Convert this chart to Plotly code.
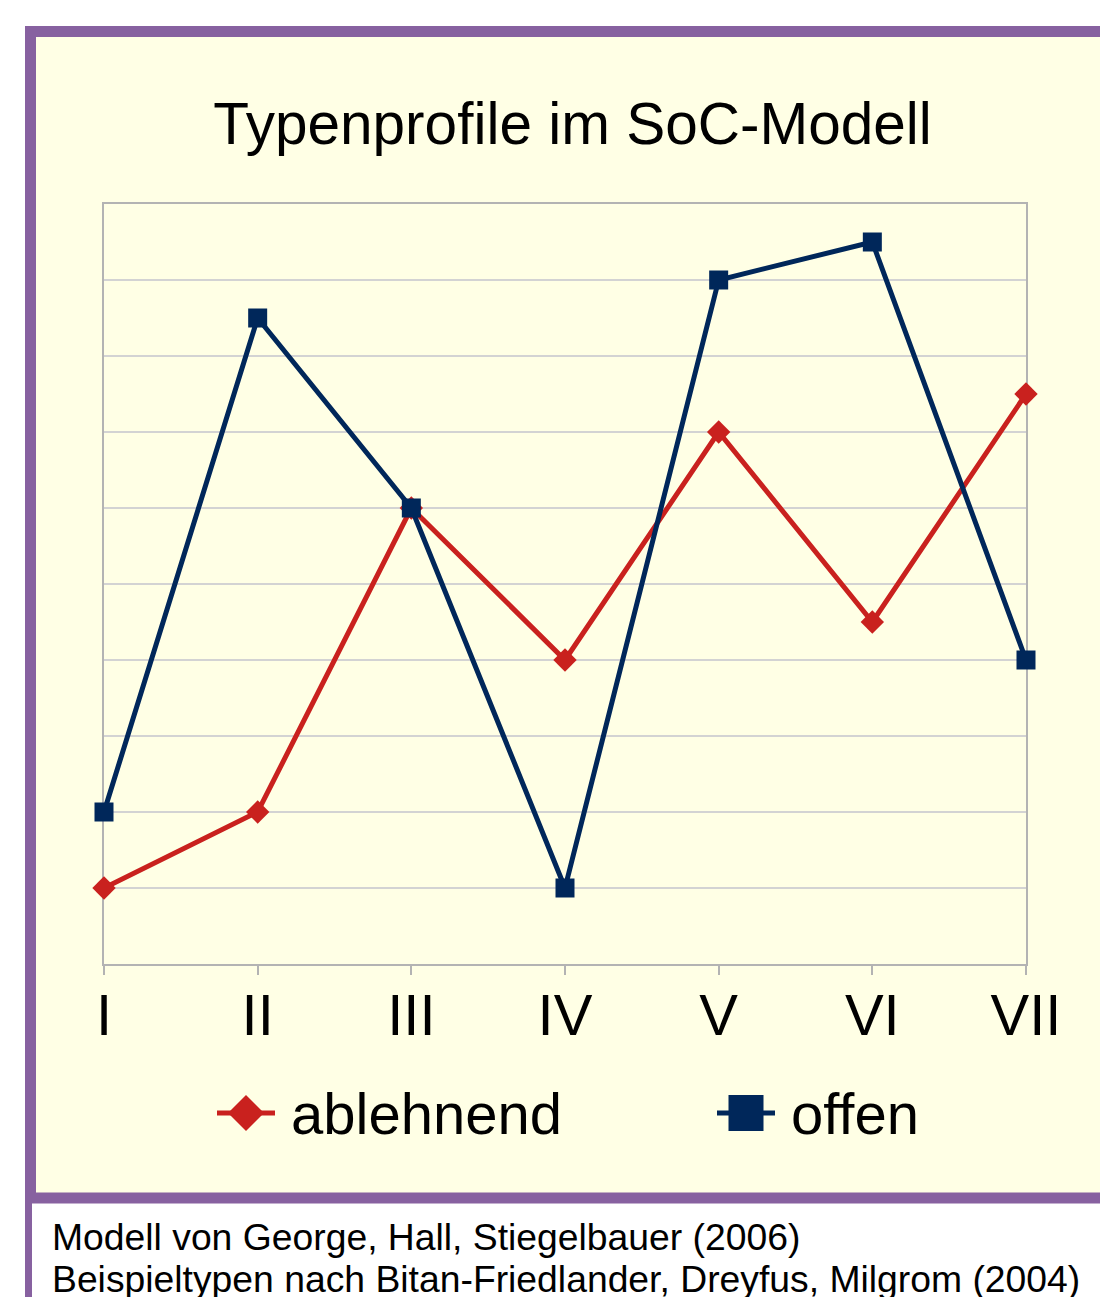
import plotly.graph_objects as go

categories = ["I", "II", "III", "IV", "V", "VI", "VII"]
series_names = ["ablehnend", "offen"]
ablehnend = [1, 2, 6, 4, 7, 4.5, 7.5]
offen = [2, 8.5, 6, 1, 9, 9.5, 4]

W, H = 1100, 1297
L, R, T, B = 104, 74, 204, 333
PW, PH = W - L - R, H - T - B


def px(X):
    return (X - L) / PW


def py(Y):
    return (H - B - Y) / PH


FONT = "Liberation Sans, Arial, sans-serif"
BG = "#FFFFE5"
PURPLE = "#8761A0"
RED = "#C9211E"
NAVY = "#00275A"

fig = go.Figure()
fig.add_trace(go.Scatter(
    x=categories, y=ablehnend, name=series_names[0], mode="lines+markers",
    line=dict(color=RED, width=5),
    marker=dict(symbol="diamond", size=18, color=RED),
    showlegend=False, cliponaxis=False,
))
fig.add_trace(go.Scatter(
    x=categories, y=offen, name=series_names[1], mode="lines+markers",
    line=dict(color=NAVY, width=5),
    marker=dict(symbol="square", size=19, color=NAVY),
    showlegend=False, cliponaxis=False,
))
# empty trace so the overlay axis that carries the tick marks gets drawn
fig.add_trace(go.Scatter(x=[], y=[], xaxis="x2", yaxis="y", showlegend=False,
                         hoverinfo="skip"))

shapes = [
    # chart frame with yellow fill
    dict(type="rect", xref="paper", yref="paper", layer="below",
         x0=px(30.5), x1=px(1130), y0=py(31.5), y1=py(1198),
         fillcolor=BG, line=dict(color=PURPLE, width=11)),
    # left border of footer area
    dict(type="rect", xref="paper", yref="paper", layer="below",
         x0=px(25), x1=px(32), y0=py(1198), y1=py(1320),
         fillcolor=PURPLE, line=dict(width=0)),
]

# legend (drawn manually to match the large legend symbols)
LEG_Y = 1113
legend_items = [(217, RED, "diamond"), (717, NAVY, "square")]
annotations = []
for (x0, col, sym), name in zip(legend_items, series_names):
    shapes.append(dict(type="line", xref="paper", yref="paper",
                       x0=px(x0), x1=px(x0 + 58), y0=py(LEG_Y), y1=py(LEG_Y),
                       line=dict(color=col, width=5)))
    cx = x0 + 29
    if sym == "diamond":
        path = "M {} {} L {} {} L {} {} L {} {} Z".format(
            px(cx - 18), py(LEG_Y), px(cx), py(LEG_Y - 18),
            px(cx + 18), py(LEG_Y), px(cx), py(LEG_Y + 18))
        shapes.append(dict(type="path", xref="paper", yref="paper", path=path,
                           fillcolor=col, line=dict(width=0)))
    else:
        shapes.append(dict(type="rect", xref="paper", yref="paper",
                           x0=px(cx - 17.5), x1=px(cx + 17.5),
                           y0=py(LEG_Y - 18), y1=py(LEG_Y + 18),
                           fillcolor=col, line=dict(width=0)))
    annotations.append(dict(text=name, xref="paper", yref="paper",
                            x=px(x0 + 72), y=py(LEG_Y), xanchor="left", yanchor="middle",
                            showarrow=False,
                            font=dict(family=FONT, size=58, color="black")))

annotations += [
    dict(text="Modell von George, Hall, Stiegelbauer (2006)", xref="paper", yref="paper",
         x=px(50), y=py(1237), xanchor="left", yanchor="middle", showarrow=False,
         font=dict(family=FONT, size=37.3, color="black")),
    dict(text="Beispieltypen nach Bitan-Friedlander, Dreyfus, Milgrom (2004)", xref="paper", yref="paper",
         x=px(50), y=py(1279), xanchor="left", yanchor="middle", showarrow=False,
         font=dict(family=FONT, size=37.3, color="black")),
]

fig.update_layout(
    width=W, height=H,
    margin=dict(l=L, r=R, t=T, b=B, pad=0),
    paper_bgcolor="white",
    plot_bgcolor="rgba(0,0,0,0)",
    font=dict(family=FONT, color="black"),
    title=dict(text="Typenprofile im SoC-Modell", x=572.5 / W, xanchor="center",
               y=1 - 124 / H, yanchor="middle", xref="container", yref="container",
               font=dict(family=FONT, size=58.5, color="black")),
    shapes=shapes,
    annotations=annotations,
    showlegend=False,
    hovermode=False,
    xaxis=dict(
        type="category", range=[0, 6], showgrid=False,
        showline=True, linecolor="#B3B3B3", linewidth=1.5, mirror=True,
        ticks="", layer="below traces",
        tickfont=dict(family=FONT, size=58, color="black"), ticklabelstandoff=0,
        zeroline=False,
    ),
    xaxis2=dict(overlaying="x", anchor="y", side="bottom", type="linear",
                range=[0, 6], dtick=1, tick0=0, ticks="outside", ticklen=10,
                tickcolor="#B3B3B3", tickwidth=1.5, layer="below traces",
                showticklabels=False, showgrid=False, showline=False, zeroline=False),
    yaxis=dict(
        range=[0, 10], dtick=1, showticklabels=False, showgrid=True, gridcolor="#D3D3D3",
        gridwidth=1.5, showline=True, linecolor="#B3B3B3", linewidth=1.5, mirror=True,
        ticks="", zeroline=False, layer="below traces",
    ),
)

fig.write_html("out.html", config={"displayModeBar": False},
               post_script="document.body.style.margin='0';")
